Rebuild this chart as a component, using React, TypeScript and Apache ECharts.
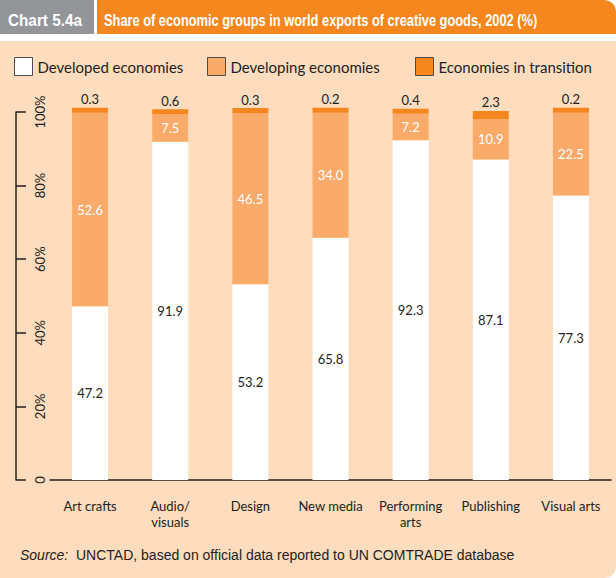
import React, { useEffect, useRef } from "react";
import * as echarts from "echarts";

const categories = ["Art crafts", "Audio/\nvisuals", "Design", "New media", "Performing\narts", "Publishing", "Visual arts"];
const developed = [47.2, 91.9, 53.2, 65.8, 92.3, 87.1, 77.3];
const developing = [52.6, 7.5, 46.5, 34.0, 7.2, 10.9, 22.5];
const transition = [0.3, 0.6, 0.3, 0.2, 0.4, 2.3, 0.2];
const seriesNames = ["Developed economies", "Developing economies", "Economies in transition"];
const yTicks = { min: 0, max: 100, interval: 20 };

const PEACH = "#fedcbe";
const LIGHT = "#fbab69";
const ORANGE = "#f6871f";
const DARK = "#231f20";

export default function App() {
  const ref = useRef<HTMLDivElement>(null);
  useEffect(() => {
    if (!ref.current) return;
    const chart = echarts.init(ref.current, null, { renderer: "svg" });
    const legendText = { fontFamily: "Lato, sans-serif", fontSize: 15, color: DARK };
    const mkLegend = (name: string, left: number) => ({
      data: [name],
      left,
      top: 52,
      itemWidth: 18,
      itemHeight: 18,
      icon: "rect",
      itemStyle: { borderColor: "#4d4d4d", borderWidth: 1 },
      textStyle: legendText,
    });
    const headFont = "bold 17px 'Liberation Sans', Arial, sans-serif";
    chart.setOption({
      animation: false,
      backgroundColor: "#ffffff",
      graphic: [
        { type: "rect", shape: { x: 0, y: 41, width: 616, height: 537, r: [0, 0, 12, 0] }, style: { fill: PEACH }, z: -10 },
        { type: "rect", shape: { x: 0, y: 0, width: 94, height: 34 }, style: { fill: "#939598" }, z: -10 },
        { type: "rect", shape: { x: 97, y: 0, width: 519, height: 34, r: [0, 12, 0, 0] }, style: { fill: ORANGE }, z: -10 },
        {
          type: "text", x: 8, y: 20, scaleX: 0.9,
          style: { text: "Chart 5.4a", fill: "#fff", font: headFont, textVerticalAlign: "middle" },
        },
        {
          type: "text", x: 104, y: 20, scaleX: 0.755,
          style: { text: "Share of economic groups in world exports of creative goods, 2002 (%)", fill: "#fff", font: headFont, textVerticalAlign: "middle" },
        },
        {
          type: "text", x: 20, y: 555,
          style: {
            text: "{i|Source:}  UNCTAD, based on official data reported to UN COMTRADE database",
            fill: DARK,
            font: "14px 'Liberation Sans', Arial, sans-serif",
            textVerticalAlign: "middle",
            rich: { i: { fontStyle: "italic", fontFamily: "'Liberation Sans', Arial, sans-serif", fontSize: 14, fill: DARK } },
          },
        },
      ],
      legend: [mkLegend(seriesNames[0], 9), mkLegend(seriesNames[1], 202), mkLegend(seriesNames[2], 410)],
      grid: { left: 50, right: 5, top: 112, bottom: 98 },
      xAxis: {
        type: "category",
        data: categories,
        axisLine: { lineStyle: { color: DARK, width: 1.5 } },
        axisTick: { alignWithLabel: true, length: 15, lineStyle: { color: DARK, width: 1.5 } },
        axisLabel: { color: DARK, fontFamily: "Lato, sans-serif", fontSize: 13, lineHeight: 16, margin: 18, interval: 0 },
      },
      yAxis: {
        type: "value",
        min: yTicks.min,
        max: yTicks.max,
        interval: yTicks.interval,
        offset: 34,
        splitLine: { show: false },
        axisLine: { show: true, lineStyle: { color: DARK, width: 1.5 } },
        axisTick: { show: true, inside: true, length: 10, lineStyle: { color: DARK, width: 1.5 } },
        axisLabel: {
          inside: true,
          rotate: 90,
          margin: 17,
          color: DARK,
          fontFamily: "Lato, sans-serif",
          fontSize: 13,
          formatter: (v: number) => (v === 0 ? "0" : v + "%"),
        },
      },
      series: [
        {
          name: seriesNames[0], type: "bar", stack: "all", barWidth: 36, data: developed, clip: false,
          itemStyle: { color: "#ffffff" },
          label: { show: true, position: "inside", color: DARK, fontFamily: "Lato, sans-serif", fontSize: 13, formatter: (p: any) => p.value.toFixed(1) },
        },
        {
          name: seriesNames[1], type: "bar", stack: "all", barWidth: 36, data: developing, clip: false,
          itemStyle: { color: LIGHT },
          label: { show: true, position: "inside", color: "#ffffff", fontFamily: "Lato, sans-serif", fontSize: 13, formatter: (p: any) => p.value.toFixed(1) },
        },
        {
          name: seriesNames[2], type: "bar", stack: "all", barWidth: 36, barMinHeight: 5, data: transition, clip: false,
          itemStyle: { color: ORANGE },
          label: { show: true, position: "top", distance: 2, color: DARK, fontFamily: "Lato, sans-serif", fontSize: 13, formatter: (p: any) => p.value.toFixed(1) },
        },
      ],
    });
    return () => chart.dispose();
  }, []);
  return <div ref={ref} style={{ position: "fixed", left: 0, top: 0, width: 616, height: 578 }} />;
}
